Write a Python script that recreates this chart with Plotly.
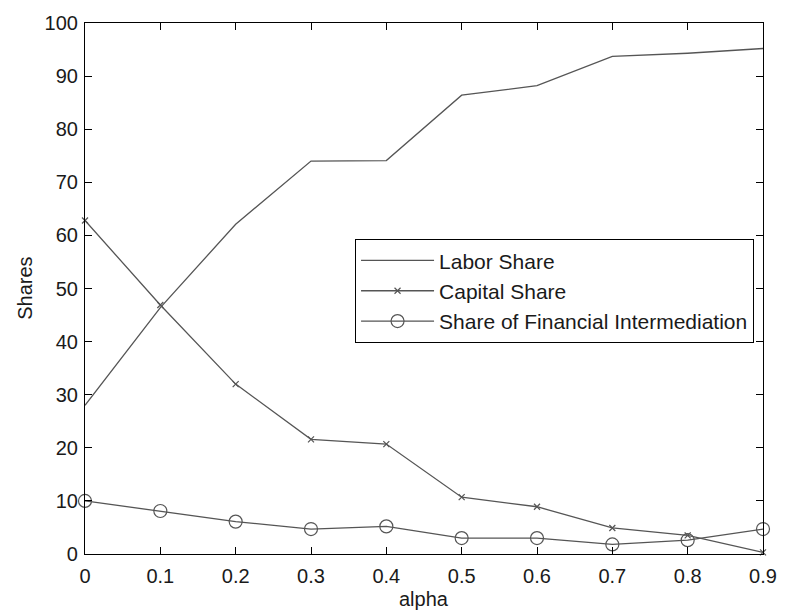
import plotly.graph_objects as go

# Shares of output by alpha
alpha = [0.0, 0.1, 0.2, 0.3, 0.4, 0.5, 0.6, 0.7, 0.8, 0.9]
labor_share = [28.0, 46.4, 62.1, 74.0, 74.1, 86.4, 88.2, 93.7, 94.3, 95.2]
capital_share = [62.8, 46.9, 32.0, 21.6, 20.7, 10.7, 8.9, 4.9, 3.5, 0.3]
financial_share = [10.0, 8.1, 6.1, 4.7, 5.2, 3.0, 3.0, 1.8, 2.6, 4.7]

x_ticks = [0.0, 0.1, 0.2, 0.3, 0.4, 0.5, 0.6, 0.7, 0.8, 0.9]
y_ticks = [0, 10, 20, 30, 40, 50, 60, 70, 80, 90, 100]

FONT = "Liberation Sans, Arial, sans-serif"
LINE = "#555555"
TEXT = "#1a1a1a"

fig = go.Figure()
fig.add_trace(go.Scatter(
    x=alpha, y=labor_share, name="Labor Share", mode="lines",
    line=dict(color=LINE, width=1.3), cliponaxis=False,
))
fig.add_trace(go.Scatter(
    x=alpha, y=capital_share, name="Capital Share", mode="lines+markers",
    line=dict(color=LINE, width=1.3),
    marker=dict(symbol="x-thin-open", size=6, color=LINE, line=dict(color=LINE, width=1.2)),
    cliponaxis=False,
))
fig.add_trace(go.Scatter(
    x=alpha, y=financial_share, name="Share of Financial Intermediation",
    mode="lines+markers",
    line=dict(color=LINE, width=1.3),
    marker=dict(symbol="circle-open", size=13, color=LINE, line=dict(color=LINE, width=1.2)),
    cliponaxis=False,
))

axis_common = dict(
    showline=True, linecolor="black", linewidth=1.2, mirror="ticks",
    ticks="inside", ticklen=7, tickwidth=1.2, tickcolor="black",
    showgrid=False, zeroline=False,
    tickfont=dict(family=FONT, size=20, color=TEXT),
)

fig.update_xaxes(range=[0, 0.9], tickvals=x_ticks,
                 ticktext=[("0" if v == 0 else f"{v:.1f}") for v in x_ticks],
                 ticklabelstandoff=4, **axis_common)
fig.update_yaxes(range=[0, 100], tickvals=y_ticks, ticklabelstandoff=2, **axis_common)

fig.add_annotation(text="alpha", xref="paper", yref="paper", x=0.5, y=-0.084,
                   xanchor="center", yanchor="middle", showarrow=False,
                   font=dict(family=FONT, size=20, color=TEXT))
fig.add_annotation(text="Shares", xref="paper", yref="paper", x=-0.0896, y=0.5,
                   xanchor="center", yanchor="middle", textangle=-90, showarrow=False,
                   font=dict(family=FONT, size=20, color=TEXT))

fig.update_layout(
    width=789, height=611,
    margin=dict(l=84.5, r=18, t=13, b=57, pad=0),
    paper_bgcolor="white", plot_bgcolor="white",
    showlegend=True,
    legend=dict(
        x=0.398, y=0.593, xanchor="left", yanchor="top",
        bgcolor="white", bordercolor="black", borderwidth=1.2,
        font=dict(family=FONT, size=21, color=TEXT),
        tracegroupgap=0, itemwidth=73,
    ),
)

fig.write_html("out.html")
